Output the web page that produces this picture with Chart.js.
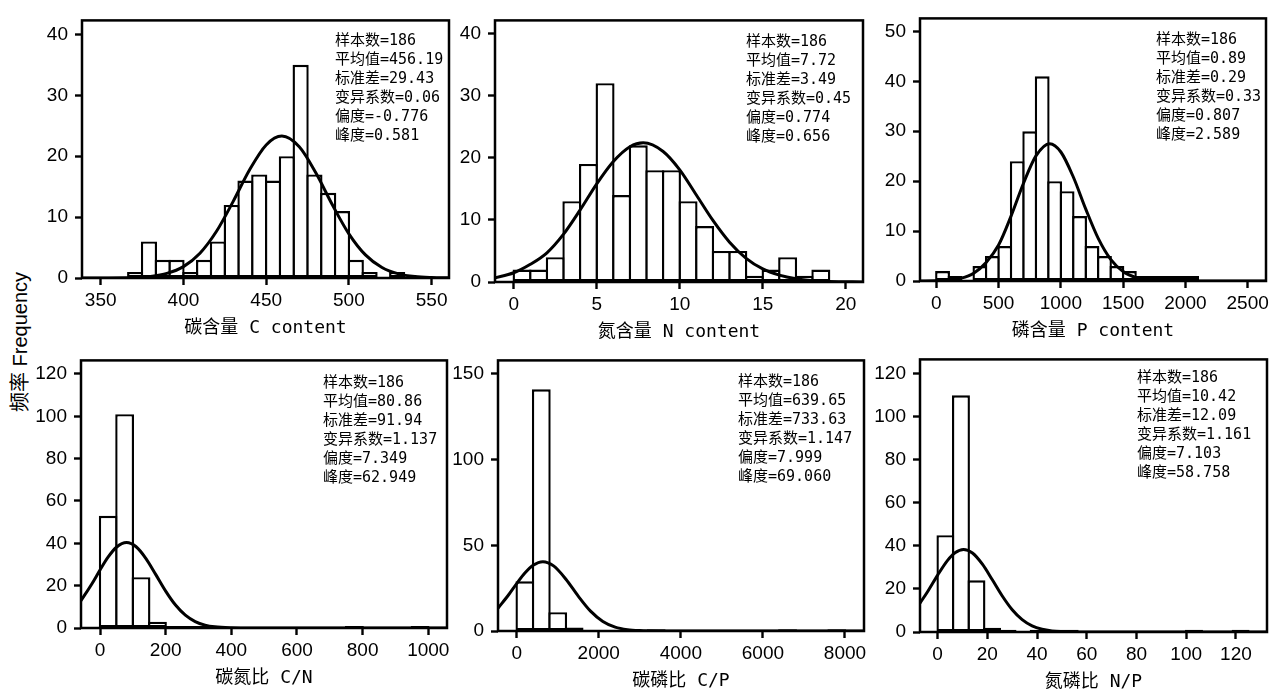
<!DOCTYPE html>
<html lang="zh">
<head>
<meta charset="utf-8">
<title>频率分布</title>
<script src="https://cdn.jsdelivr.net/npm/chart.js@4.4.1/dist/chart.umd.min.js"></script>
<style>
  html, body { margin: 0; padding: 0; background: #fff; width: 1280px; height: 690px; overflow: hidden; }
  canvas { position: absolute; }
  #ylab {
    position: absolute; left: 18px; top: 342px;
    transform: translate(-50%, -50%) rotate(-90deg);
    white-space: nowrap; color: #000;
    font: 20px 'Liberation Sans', 'Noto Sans CJK SC', sans-serif;
  }
</style>
</head>
<body>
<div id="ylab">频率 Frequency</div>
<canvas id="c1"></canvas>
<canvas id="c2"></canvas>
<canvas id="c3"></canvas>
<canvas id="c4"></canvas>
<canvas id="c5"></canvas>
<canvas id="c6"></canvas>
<script>
// ===== Datos =====
// 碳含量 C content
const cBins = [370.83, 379.17, 387.5, 395.83, 404.17, 412.5, 420.83, 429.17, 437.5, 445.83,
               454.17, 462.5, 470.83, 479.17, 487.5, 495.83, 504.17, 512.5, 520.83, 529.17];
const cCounts = [1, 6, 3, 3, 1, 3, 6, 12, 16, 17, 16, 20, 35, 17, 14, 11, 3, 1, 0, 1];
const cCurveX = [338, 350, 370, 380, 390, 400, 410, 420, 430, 440, 450, 459.5, 470, 480, 490, 500, 510, 520, 530, 540, 550, 561];
const cCurveY = [0, 0.01, 0.08, 0.26, 0.75, 1.87, 4.07, 7.67, 12.54, 17.77, 21.85, 23.3, 21.54, 17.27, 12.02, 7.25, 3.79, 1.72, 0.68, 0.23, 0.07, 0.02];
const cXTicks = [350, 400, 450, 500, 550];
const cYTicks = [0, 10, 20, 30, 40];
const cStats = ['样本数=186', '平均值=456.19', '标准差=29.43', '变异系数=0.06', '偏度=-0.776', '峰度=0.581'];

// 氮含量 N content
const nBins = [0.5, 1.5, 2.5, 3.5, 4.5, 5.5, 6.5, 7.5, 8.5, 9.5, 10.5, 11.5, 12.5, 13.5, 14.5, 15.5, 16.5, 17.5, 18.5];
const nCounts = [2, 2, 4, 13, 19, 32, 14, 22, 18, 18, 13, 9, 5, 5, 1, 2, 4, 1, 2];
const nCurveX = [-1.2, 0, 1, 2, 3, 4, 5, 6, 7, 7.8, 9, 10, 11, 12, 13, 14, 15, 16, 17, 18, 19, 21.1];
const nCurveY = [0.62, 1.49, 2.85, 4.7, 7.7, 11.6, 15.8, 19.39, 21.77, 22.4, 21.01, 18.05, 14.0, 9.9, 6.4, 3.8, 2.1, 1.1, 0.52, 0.22, 0.08, 0.01];
const nXTicks = [0, 5, 10, 15, 20];
const nYTicks = [0, 10, 20, 30, 40];
const nStats = ['样本数=186', '平均值=7.72', '标准差=3.49', '变异系数=0.45', '偏度=0.774', '峰度=0.656'];

// 磷含量 P content
const pBins = [50, 150, 250, 350, 450, 550, 650, 750, 850, 950, 1050, 1150, 1250, 1350, 1450, 1550, 1650, 1750, 1850, 1950, 2050];
const pCounts = [2, 1, 0, 3, 5, 7, 24, 30, 41, 20, 18, 13, 7, 5, 3, 2, 1, 1, 1, 1, 1];
const pCurveX = [-131, 0, 100, 200, 300, 400, 500, 600, 700, 800, 910, 1000, 1100, 1200, 1300, 1400, 1500, 1600, 1700, 1800, 2000, 2647];
const pCurveY = [0, 0.05, 0.18, 0.57, 1.57, 3.72, 7.2, 13.0, 19.59, 25.06, 27.5, 25.84, 20.83, 14.4, 8.54, 4.34, 1.89, 0.71, 0.23, 0.06, 0, 0];
const pXTicks = [0, 500, 1000, 1500, 2000, 2500];
const pYTicks = [0, 10, 20, 30, 40, 50];
const pStats = ['样本数=186', '平均值=0.89', '标准差=0.29', '变异系数=0.33', '偏度=0.807', '峰度=2.589'];

// 碳氮比 C/N
const cnBins = [25, 75, 125, 175, 225, 275, 325, 375, 425, 475, 525, 575, 625, 675, 725, 775, 825, 875, 925, 975];
const cnCounts = [53, 101, 24, 3, 1, 1, 1, 0, 0, 0, 0, 0, 0, 0, 0, 1, 0, 0, 0, 1];
const cnCurveX = [-58, -25, 0, 25, 50, 80.86, 110, 140, 170, 200, 230, 260, 290, 320, 350, 400, 450, 500, 1057];
const cnCurveY = [12.9, 20.8, 27.4, 33.55, 38.14, 40.35, 38.38, 32.81, 25.22, 17.43, 10.83, 6.05, 3.04, 1.37, 0.56, 0.1, 0.01, 0, 0];
const cnXTicks = [0, 200, 400, 600, 800, 1000];
const cnYTicks = [0, 20, 40, 60, 80, 100, 120];
const cnStats = ['样本数=186', '平均值=80.86', '标准差=91.94', '变异系数=1.137', '偏度=7.349', '峰度=62.949'];

// 碳磷比 C/P
const cpBins = [200, 600, 1000, 1400, 1800, 2200, 2600, 3000, 3400, 3800, 4200, 4600, 5000, 5400, 5800, 6200, 6600, 7000, 7400, 7800];
const cpCounts = [29, 141, 11, 2, 0, 0, 0, 0, 1, 0, 0, 0, 0, 0, 0, 0, 1, 0, 0, 1];
const cpCurveX = [-455, -200, 0, 200, 400, 639.65, 900, 1200, 1500, 1800, 2100, 2400, 2700, 3000, 3500, 4000, 8463];
const cpCurveY = [13.29, 21.02, 27.67, 33.81, 38.36, 40.46, 37.99, 30.22, 20.34, 11.58, 5.58, 2.27, 0.78, 0.23, 0.02, 0, 0];
const cpXTicks = [0, 2000, 4000, 6000, 8000];
const cpYTicks = [0, 50, 100, 150];
const cpStats = ['样本数=186', '平均值=639.65', '标准差=733.63', '变异系数=1.147', '偏度=7.999', '峰度=69.060'];

// 氮磷比 N/P
const npBins = [3.125, 9.375, 15.625, 21.875, 28.125, 34.375, 40.625, 46.875, 53.125, 59.375,
                65.625, 71.875, 78.125, 84.375, 90.625, 96.875, 103.125, 109.375, 115.625, 121.875];
const npCounts = [45, 110, 24, 2, 1, 0, 1, 0, 1, 0, 0, 0, 0, 0, 0, 0, 1, 0, 0, 1];
const npCurveX = [-7.1, -4, 0, 4, 7, 10.42, 14, 18, 22, 26, 30, 34, 38, 42, 46, 50, 55, 60, 132.5];
const npCurveY = [13.42, 18.84, 26.46, 33.32, 36.86, 38.36, 36.71, 31.52, 24.25, 16.72, 10.33, 5.73, 2.84, 1.27, 0.51, 0.18, 0.04, 0.01, 0];
const npXTicks = [0, 20, 40, 60, 80, 100, 120];
const npYTicks = [0, 20, 40, 60, 80, 100, 120];
const npStats = ['样本数=186', '平均值=10.42', '标准差=12.09', '变异系数=1.161', '偏度=7.103', '峰度=58.758'];

// ===== Layout =====
const Y_AXIS_W = 75, PAD_TOP = 3, PAD_RIGHT = 10, X_AXIS_H = 61;
const BAR_BORDER = 2.4;
const TICK_FONT = { family: "'Liberation Sans', Arial, sans-serif", size: 19 };
const TITLE_FONT = { family: "'DejaVu Sans Mono', 'Noto Sans CJK SC', monospace", size: 18, lineHeight: 1.2 };
const STATS_FONT = "15px 'DejaVu Sans Mono', 'Noto Sans CJK SC', monospace";

const panels = [
  { id: 'c1', box: { left: 82, right: 449, top: 5, bottom: 278 }, xMin: 338.7, xMax: 560.5, yMax: 42.3,
    title: '碳含量 C content', bins: cBins, counts: cCounts, curveX: cCurveX, curveY: cCurveY,
    xTicks: cXTicks, yTicks: cYTicks, stats: cStats, dx: 114, dy: 21 },
  { id: 'c2', box: { left: 495, right: 863, top: 5, bottom: 282 }, xMin: -1.13, xMax: 21.04, yMax: 42.1,
    title: '氮含量 N content', bins: nBins, counts: nCounts, curveX: nCurveX, curveY: nCurveY,
    xTicks: nXTicks, yTicks: nYTicks, stats: nStats, dx: 117, dy: 22 },
  { id: 'c3', box: { left: 920, right: 1266, top: 3, bottom: 281 }, xMin: -131, xMax: 2647, yMax: 52.6,
    title: '磷含量 P content', bins: pBins, counts: pCounts, curveX: pCurveX, curveY: pCurveY,
    xTicks: pXTicks, yTicks: pYTicks, stats: pStats, dx: 110, dy: 22 },
  { id: 'c4', box: { left: 81, right: 447, top: 345, bottom: 628 }, xMin: -57.9, xMax: 1057, yMax: 126.4,
    title: '碳氮比 C/N', bins: cnBins, counts: cnCounts, curveX: cnCurveX, curveY: cnCurveY,
    xTicks: cnXTicks, yTicks: cnYTicks, stats: cnStats, dx: 124, dy: 23 },
  { id: 'c5', box: { left: 498, right: 864, top: 345, bottom: 631 }, xMin: -455, xMax: 8463, yMax: 157.9,
    title: '碳磷比 C/P', bins: cpBins, counts: cpCounts, curveX: cpCurveX, curveY: cpCurveY,
    xTicks: cpXTicks, yTicks: cpYTicks, stats: cpStats, dx: 126, dy: 22 },
  { id: 'c6', box: { left: 920, right: 1267, top: 344, bottom: 632 }, xMin: -7.1, xMax: 132.5, yMax: 126.7,
    title: '氮磷比 N/P', bins: npBins, counts: npCounts, curveX: npCurveX, curveY: npCurveY,
    xTicks: npXTicks, yTicks: npYTicks, stats: npStats, dx: 130, dy: 19 }
];

// ===== Plugin: marco + estadísticos =====
const frameAndStats = {
  id: 'frameAndStats',
  afterDatasetsDraw(chart, args, opts) {
    const { ctx, chartArea: a } = chart;
    ctx.save();
    ctx.strokeStyle = '#000';
    ctx.lineWidth = 2.5;
    ctx.strokeRect(a.left, a.top, a.right - a.left, a.bottom - a.top);
    ctx.fillStyle = '#000';
    ctx.font = STATS_FONT;
    ctx.textAlign = 'left';
    ctx.textBaseline = 'middle';
    opts.lines.forEach((t, i) => ctx.fillText(t, a.right - opts.dx, a.top + opts.dy + i * 19));
    ctx.restore();
  }
};

function axisGrid() {
  return { display: true, drawOnChartArea: false, drawTicks: true, tickLength: 7, tickWidth: 2.4, tickColor: '#000', color: '#000', offset: false };
}

// ===== Render =====
function drawPanel(p) {
  const canvas = document.getElementById(p.id);
  const w = Y_AXIS_W + (p.box.right - p.box.left) + PAD_RIGHT;
  const h = PAD_TOP + (p.box.bottom - p.box.top) + X_AXIS_H;
  canvas.width = w;
  canvas.height = h;
  canvas.style.width = w + 'px';
  canvas.style.height = h + 'px';
  canvas.style.left = (p.box.left - Y_AXIS_W) + 'px';
  canvas.style.top = (p.box.top - PAD_TOP) + 'px';

  // bars overlap by one border width so neighbouring outlines merge into one line
  const pxPerUnit = (p.box.right - p.box.left) / (p.xMax - p.xMin);
  const binPx = (p.bins[1] - p.bins[0]) * pxPerUnit;

  new Chart(canvas, {
    type: 'bar',
    data: {
      datasets: [
        {
          type: 'line',
          data: p.curveX.map((x, i) => ({ x, y: p.curveY[i] })),
          borderColor: '#000',
          borderWidth: 3,
          pointRadius: 0,
          cubicInterpolationMode: 'monotone',
          fill: false,
          order: 0
        },
        {
          type: 'bar',
          data: p.bins.map((x, i) => ({ x, y: p.counts[i] })),
          backgroundColor: '#fff',
          borderColor: '#000',
          borderWidth: BAR_BORDER,
          borderSkipped: false,
          inflateAmount: 0,
          barPercentage: 1 + BAR_BORDER / binPx,
          categoryPercentage: 1,
          order: 1
        }
      ]
    },
    options: {
      responsive: false,
      animation: false,
      devicePixelRatio: 1,
      events: [],
      layout: { padding: { top: PAD_TOP, right: PAD_RIGHT, left: 0, bottom: 0 } },
      plugins: {
        legend: { display: false },
        tooltip: { enabled: false },
        frameAndStats: { lines: p.stats, dx: p.dx, dy: p.dy }
      },
      scales: {
        x: {
          type: 'linear',
          min: p.xMin,
          max: p.xMax,
          offset: false,
          grid: axisGrid(),
          border: { display: false },
          afterBuildTicks: s => { s.ticks = p.xTicks.map(v => ({ value: v })); },
          ticks: {
            autoSkip: false, maxRotation: 0,
            color: '#000', font: TICK_FONT, padding: 4,
            callback: v => String(v)
          },
          title: { display: true, text: p.title, color: '#000', font: TITLE_FONT, padding: { top: 0, bottom: 0 } },
          afterFit: s => { s.height = X_AXIS_H; }
        },
        y: {
          type: 'linear',
          min: 0,
          max: p.yMax,
          grid: axisGrid(),
          border: { display: false },
          afterBuildTicks: s => { s.ticks = p.yTicks.map(v => ({ value: v })); },
          ticks: {
            autoSkip: false, color: '#000', font: TICK_FONT, padding: 7,
            callback: v => String(v)
          },
          afterFit: s => { s.width = Y_AXIS_W; }
        }
      }
    },
    plugins: [frameAndStats]
  });
}

panels.forEach(drawPanel);
</script>
</body>
</html>
